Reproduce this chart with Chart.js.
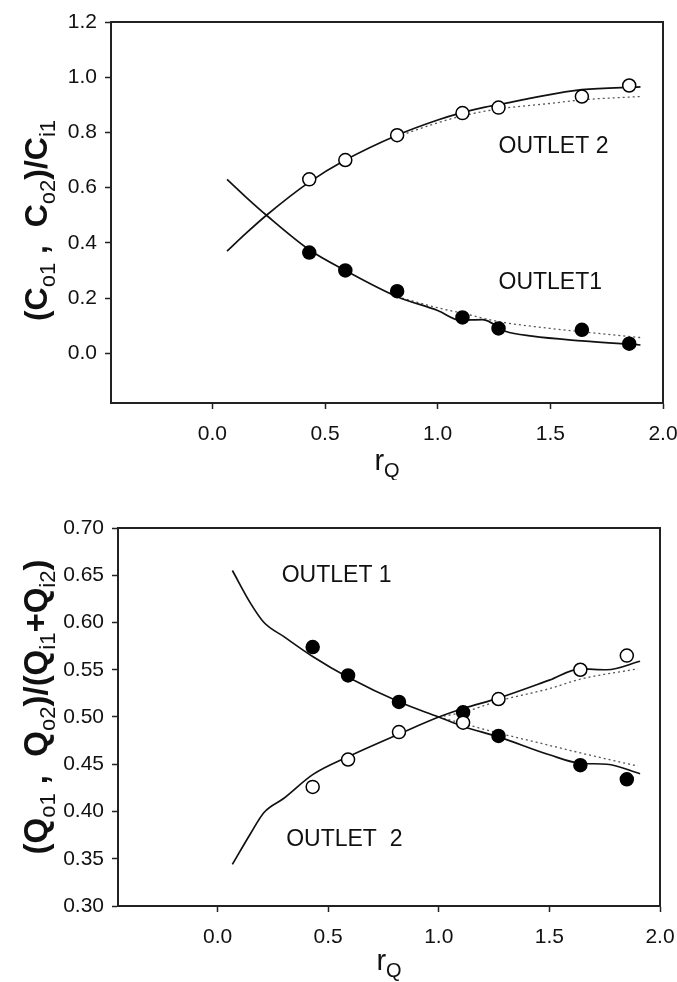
<!DOCTYPE html>
<html lang="en">

<head>
  <meta charset="UTF-8" />
  <title>Outlet concentration and flow ratio vs rQ</title>
  <script src="https://cdn.jsdelivr.net/npm/chart.js"></script>
  <style>
    body { margin: 0; background: #fff; }
    .painel { position: absolute; left: 0; width: 677px; }
    #painelTopo { top: 0; height: 480px; }
    #painelBase { top: 480px; height: 502px; }
  </style>
</head>

<body>
  <div class="painel" id="painelTopo"><canvas id="graficoConc"></canvas></div>
  <div class="painel" id="painelBase"><canvas id="graficoVazao"></canvas></div>
</body>

</html>

<script>
  // ---- dados do grafico de cima (concentracao) ----
  const rqExp = [0.43, 0.59, 0.82, 1.11, 1.27, 1.64, 1.85];
  const concSaida1Exp = [0.365, 0.30, 0.225, 0.13, 0.09, 0.085, 0.035];
  const concSaida2Exp = [0.63, 0.70, 0.79, 0.87, 0.89, 0.93, 0.97];

  const rqConcModelo = [0.065, 0.15, 0.24, 0.43, 0.59, 0.82, 1.0, 1.1, 1.2, 1.3, 1.42, 1.64, 1.9];
  const concSaida1Modelo = [0.63, 0.565, 0.50, 0.375, 0.30, 0.205, 0.155, 0.12, 0.122, 0.08, 0.062, 0.045, 0.03];
  const concSaida2Modelo = [0.37, 0.435, 0.50, 0.62, 0.70, 0.79, 0.845, 0.87, 0.89, 0.905, 0.925, 0.955, 0.965];

  const rqConcPontilhado = [0.82, 1.0, 1.11, 1.27, 1.5, 1.64, 1.9];
  const concSaida1Pontilhado = [0.205, 0.165, 0.145, 0.115, 0.09, 0.078, 0.057];
  const concSaida2Pontilhado = [0.785, 0.835, 0.86, 0.885, 0.905, 0.918, 0.93];

  // ---- dados do grafico de baixo (vazao) ----
  const vazaoSaida1Exp = [0.574, 0.544, 0.516, 0.505, 0.480, 0.449, 0.434];
  const vazaoSaida2Exp = [0.426, 0.455, 0.484, 0.494, 0.519, 0.550, 0.565];

  const rqVazaoModelo = [0.067, 0.15, 0.21, 0.3, 0.43, 0.59, 0.83, 1.0, 1.11, 1.27, 1.5, 1.64, 1.76, 1.91];
  const vazaoSaida1Modelo = [0.655, 0.62, 0.60, 0.585, 0.564, 0.542, 0.515, 0.50, 0.49, 0.479, 0.46, 0.451, 0.45, 0.44];
  const vazaoSaida2Modelo = [0.344, 0.377, 0.399, 0.414, 0.439, 0.458, 0.483, 0.50, 0.509, 0.52, 0.539, 0.551, 0.55, 0.559];

  const rqVazaoPontilhado = [1.0, 1.11, 1.27, 1.5, 1.64, 1.9];
  const vazaoSaida1Pontilhado = [0.50, 0.493, 0.483, 0.47, 0.462, 0.448];
  const vazaoSaida2Pontilhado = [0.50, 0.505, 0.517, 0.53, 0.54, 0.551];

  // ---- eixos ----
  const xTicks = [0.0, 0.5, 1.0, 1.5, 2.0];
  const yTicksConc = [0.0, 0.2, 0.4, 0.6, 0.8, 1.0, 1.2];
  const yTicksVazao = [0.30, 0.35, 0.40, 0.45, 0.50, 0.55, 0.60, 0.65, 0.70];

  const FONTE = 'Liberation Sans, Arial, sans-serif';

  function pares(xs, ys) {
    return xs.map((x, i) => ({ x: x, y: ys[i] }));
  }

  function linha(xs, ys, pontilhado) {
    return {
      type: 'line',
      data: pares(xs, ys),
      borderColor: pontilhado ? '#555' : '#111',
      borderWidth: pontilhado ? 1.3 : 1.7,
      borderDash: pontilhado ? [2, 3] : [],
      pointRadius: 0,
      fill: false,
      tension: 0.4,
      cubicInterpolationMode: 'monotone',
      order: 2
    };
  }

  function pontos(xs, ys, cheio) {
    return {
      type: 'scatter',
      data: pares(xs, ys),
      pointRadius: 6.5,
      pointBackgroundColor: cheio ? '#000' : '#fff',
      pointBorderColor: '#000',
      pointBorderWidth: 1.5,
      order: 0
    };
  }

  // escreve texto com subscritos: partes = [[texto, sub?], ...]
  function textoComSub(ctx, partes, fonteNormal, fonteSub, desce) {
    let largura = 0;
    partes.forEach(p => {
      ctx.font = p[1] ? fonteSub : fonteNormal;
      largura += ctx.measureText(p[0]).width;
    });
    let x = -largura / 2;
    partes.forEach(p => {
      ctx.font = p[1] ? fonteSub : fonteNormal;
      ctx.fillText(p[0], x, p[1] ? desce : 0);
      x += ctx.measureText(p[0]).width;
    });
  }

  function pluginMoldura(cfg) {
    return {
      id: 'moldura',
      afterDraw(chart) {
        const ctx = chart.ctx;
        const a = chart.chartArea;
        ctx.save();
        ctx.strokeStyle = '#222';
        ctx.lineWidth = 2;
        ctx.strokeRect(a.left, a.top, a.right - a.left, a.bottom - a.top);

        ctx.fillStyle = '#111';
        ctx.textBaseline = 'alphabetic';

        // titulo do eixo y (girado)
        ctx.save();
        ctx.translate(cfg.yTituloX, (a.top + a.bottom) / 2 + cfg.yTituloDy);
        ctx.rotate(-Math.PI / 2);
        textoComSub(ctx, cfg.yTitulo, 'bold ' + cfg.yTamanho + 'px ' + FONTE, Math.round(cfg.yTamanho * 0.68) + 'px ' + FONTE, 8);
        ctx.restore();

        // titulo do eixo x
        ctx.save();
        ctx.translate((a.left + a.right) / 2, cfg.xTituloY);
        textoComSub(ctx, [['r', false], ['Q', true]], '29px ' + FONTE, '20px ' + FONTE, 7);
        ctx.restore();

        // rotulos OUTLET
        const sx = chart.scales.x;
        const sy = chart.scales.y;
        ctx.font = '23px ' + FONTE;
        ctx.textAlign = 'left';
        ctx.textBaseline = 'middle';
        cfg.rotulos.forEach(r => {
          ctx.fillText(r.texto, sx.getPixelForValue(r.x), sy.getPixelForValue(r.y));
        });
        ctx.restore();
      }
    };
  }

  function montarGrafico(idCanvas, datasets, yMin, yMax, yTicks, casas, layout, cfgMoldura) {
    const ctx = document.getElementById(idCanvas).getContext('2d');
    return new Chart(ctx, {
      data: { datasets: datasets },
      options: {
        responsive: true,
        maintainAspectRatio: false,
        animation: false,
        layout: { padding: layout.padding },
        plugins: {
          legend: { display: false },
          tooltip: { enabled: false }
        },
        scales: {
          x: {
            type: 'linear',
            min: -0.45,
            max: 2.0,
            afterBuildTicks: s => { s.ticks = xTicks.map(v => ({ value: v })); },
            afterFit: s => {
              s.height = layout.alturaX;
              s.paddingLeft = 0;
              s.paddingRight = 0;
            },
            ticks: {
              color: '#111',
              font: { family: FONTE, size: 21 },
              padding: 13,
              maxRotation: 0,
              callback: v => Number(v).toFixed(1)
            },
            grid: { drawOnChartArea: false, drawTicks: true, tickLength: 6, tickColor: '#222', tickWidth: 1.5 },
            border: { display: true, color: '#222', width: 2 }
          },
          y: {
            type: 'linear',
            min: yMin,
            max: yMax,
            afterBuildTicks: s => { s.ticks = yTicks.map(v => ({ value: v })); },
            afterFit: s => {
              s.width = layout.larguraY;
              s.paddingTop = 0;
              s.paddingBottom = 0;
            },
            ticks: {
              color: '#111',
              font: { family: FONTE, size: 21 },
              padding: 8,
              callback: v => Number(v).toFixed(casas)
            },
            grid: { drawOnChartArea: false, drawTicks: true, tickLength: 6, tickColor: '#222', tickWidth: 1.5 },
            border: { display: true, color: '#222', width: 2 }
          }
        }
      },
      plugins: [pluginMoldura(cfgMoldura)]
    });
  }

  // grafico de cima
  montarGrafico('graficoConc', [
    pontos(rqExp, concSaida2Exp, false),
    pontos(rqExp, concSaida1Exp, true),
    linha(rqConcModelo, concSaida1Modelo, false),
    linha(rqConcModelo, concSaida2Modelo, false),
    linha(rqConcPontilhado, concSaida1Pontilhado, true),
    linha(rqConcPontilhado, concSaida2Pontilhado, true)
  ], -0.18, 1.2, yTicksConc, 1,
    { padding: { left: 0, right: 14, top: 22, bottom: 0 }, larguraY: 111, alturaX: 77 },
    {
      yTitulo: [['(C', false], ['o1', true], [' ,  C', false], ['o2', true], [')/C', false], ['i1', true]],
      yTamanho: 32, yTituloX: 47, yTituloDy: 8, xTituloY: 470,
      rotulos: [
        { texto: 'OUTLET 2', x: 1.27, y: 0.75 },
        { texto: 'OUTLET1', x: 1.27, y: 0.255 }
      ]
    });

  // grafico de baixo
  montarGrafico('graficoVazao', [
    pontos(rqExp, vazaoSaida2Exp, false),
    pontos(rqExp, vazaoSaida1Exp, true),
    linha(rqVazaoModelo, vazaoSaida1Modelo, false),
    linha(rqVazaoModelo, vazaoSaida2Modelo, false),
    linha(rqVazaoPontilhado, vazaoSaida1Pontilhado, true),
    linha(rqVazaoPontilhado, vazaoSaida2Pontilhado, true)
  ], 0.30, 0.70, yTicksVazao, 2,
    { padding: { left: 0, right: 17, top: 48, bottom: 0 }, larguraY: 118, alturaX: 76 },
    {
      yTitulo: [['(Q', false], ['o1', true], [' ,  Q', false], ['o2', true], [')/(Q', false], ['i1', true], ['+Q', false], ['i2', true], [')', false]],
      yTamanho: 33, yTituloX: 47, yTituloDy: -10, xTituloY: 490,
      rotulos: [
        { texto: 'OUTLET 1', x: 0.29, y: 0.65 },
        { texto: 'OUTLET  2', x: 0.31, y: 0.37 }
      ]
    });
</script>
